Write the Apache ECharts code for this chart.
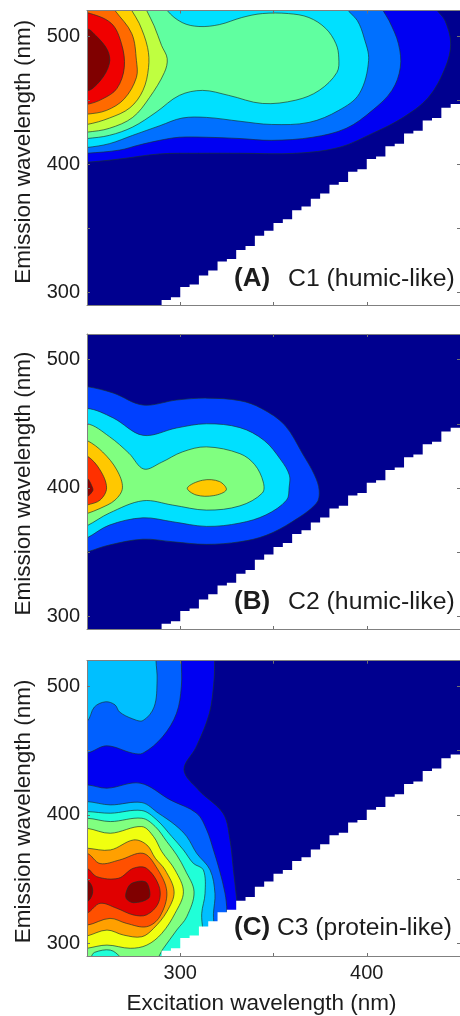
<!DOCTYPE html>
<html><head><meta charset="utf-8">
<style>html,body{margin:0;padding:0;background:#fff}#c{width:460px;height:1016px}</style>
<script src="https://cdn.jsdelivr.net/npm/echarts@6/dist/echarts.min.js"></script>
</head><body><div id="c"></div>
<script>
// Contour outlines as [excitation nm, emission nm]
const a1=[[240,401],[250,401.5],[267.5,404],[289,408],[310,408.5],[332,408.5],[362,408.5],[385,413],[403,424],[419,436],[433,452],[442,475],[445,494],[442,512],[437,522],[435,535],[240,535]];
const a2=[[240,408],[250,408.5],[267.5,411],[278,415],[289,418.6],[299.5,421],[314,421],[332,420],[349,418.6],[371,421],[389,428],[403,442],[413.5,457.6],[418,475.5],[417,494],[412,512],[408,522],[405,535],[240,535]];
const a3=[[240,412],[250,413],[262,416],[274.5,422.5],[289,430],[301,436],[314,436.5],[332,433.5],[349,431],[369,432.6],[385,442],[396,455],[401,481],[398.5,499],[395,512],[389,522],[386,535],[240,535]];
const a4=[[240,419],[250,420],[262,422.5],[274.5,429],[287,440.5],[299.5,453.7],[312,457.6],[326,453.7],[344,447.4],[362,450],[374.5,457.6],[384,471.6],[385,483],[383.5,494],[378,506],[369,514.5],[358,517.6],[344,517.6],[333,514.5],[321,509],[310,507.5],[301,510.6],[293,520],[290,530],[240,530]];
const a5=[[240,424],[250,425],[262,428],[274.5,436.5],[283.5,452],[291.5,471.6],[293,482.5],[290,492.6],[286,508],[282,520],[279,530],[240,530]];
const a6=[[240,430],[250,431],[262,436],[273,444],[280,457.6],[283,475.5],[282.5,491],[278,510],[274,520],[271,530],[240,530]];
const a7=[[240,438],[250,439],[260.5,442],[270,451],[276.5,467.7],[276.5,481],[274,502],[265,520],[260,530],[240,530]];
const a8=[[240,446],[250,446.7],[258.4,451],[266,459],[270,475.5],[268.5,494],[263,510],[250,518.4],[240,520]];
const a9=[[250,458],[257,465],[262,478.6],[261,489],[255,500],[250,505],[245,482]];

const b1=[[240,480],[250,479],[264,474],[280,464.6],[298,468.5],[314,470],[332,468],[343.5,462],[356,449],[366,425.6],[372,410],[374.5,398],[373,388],[360,373.6],[346,363],[332,358],[314,356],[296,358],[280,360],[262,355.5],[250,350],[240,346]];
const b2=[[240,458],[250,462],[264,454.6],[280,441],[298,446.7],[314,450],[332,447],[345,437],[354,421.7],[358.5,410],[358.4,400.7],[357,390.5],[346,379],[332,372.6],[314,370],[296,373.6],[280,376.7],[262,371],[250,361],[240,355]];
const b3=[[240,445],[250,450],[262,440],[272.5,427],[280.5,414.7],[290,420],[301,428],[314,432],[332,426.7],[340,418],[344.5,404.6],[344,396],[332,386],[314,382.7],[296,386.6],[280,390],[262,380.4],[250,370.5],[240,365]];
const b4=[[240,442],[250,437],[258.4,428],[266,414],[269,400],[265,390.5],[257,384],[250,380],[240,375]];
const b4b=[[303.8,400],[312,406],[321,405],[324.7,398.5],[318,394],[308.5,394.5]];
const b5=[[240,430],[250,425],[257,414],[260.5,400],[257,390.5],[250,386.6],[240,382]];
const b6=[[245,410],[250,407.7],[253,400],[253,397.5],[250,393],[245,390]];

const c1=[[318,525],[318.4,520],[318,503],[315.6,479],[308.6,453],[302,435],[310,419],[323,401],[326.7,380],[328.5,357],[330.2,335],[331,320],[331,280],[240,280],[240,525]];
const c2up=[[300.6,530],[300.6,520],[300.6,500],[298,479],[290.5,460.7],[280,448],[274.5,448],[260.5,453.7],[250,448],[240,448],[240,530]];
const c2lo=[[240,423],[250,423.3],[260.7,420.7],[278.5,424.6],[294.6,411.6],[308.8,401.2],[314.2,388.2],[317.8,372.6],[321,357],[324,339],[325,325],[325,280],[240,280]];
const c3up=[[287,530],[287,520],[287.6,505],[286,484],[280,473.4],[274.5,474.7],[267.5,480],[265,485.6],[260,488],[254,484],[250,472.6],[240,465],[240,530]];
const c3lo=[[240,410],[250,410.3],[262.5,407.7],[279.4,409.5],[288.3,401.2],[297.2,392.1],[303.5,383],[308.8,370],[316,357],[318.6,338.8],[317.8,323],[317,280],[240,280]];
const c4=[[240,402],[250,402.5],[262.5,401.2],[279.4,403.3],[287.4,396],[295.5,383],[301.7,372.6],[307,362.2],[312.4,357],[313.3,338.8],[311.5,323],[311,280],[240,280]];
const c5=[[240,396],[250,397.3],[262.5,394.7],[279.4,397.3],[286.6,390.8],[292.8,379.1],[298.1,368.7],[302.6,357],[307.4,340],[303.5,320.6],[298.1,310.2],[291,296],[285,284],[270,284],[268,289],[262.5,294.6],[254,292.8],[252,289],[250,286],[240,286]];
const c6=[[240,390],[250,389.5],[262.5,385.6],[279.4,390.8],[285.7,383],[290.1,371.3],[297.2,357],[301.7,340],[297.2,323.2],[290.1,307.6],[282.1,298.5],[273.2,296],[260.7,298.5],[250,296],[240,294]];
const c7=[[240,375],[250,374],[262.5,372.6],[275,380.4],[282.1,376.5],[286.6,366.2],[291.9,357],[296.7,340],[292.8,324.5],[285.7,311.5],[279.4,305],[269.6,306.3],[260.7,310.2],[250,305.6],[240,303]];
const c8=[[240,370],[250,370],[257,362],[267.5,364.8],[280,370],[287,359.6],[292.8,340],[289,320.6],[281.9,312.8],[271.2,315.4],[262.3,319.3],[250,314],[240,314]];
const c9=[[240,360],[250,358.3],[255.2,351.8],[266.8,350.5],[274.8,358.3],[281.9,358.3],[288.7,344],[288.2,331],[281.9,322],[274.8,322],[265.9,327.2],[257,331],[250,323.3],[240,320]];
const c10a=[[271.4,341.4],[274,346.6],[281.2,347.9],[283.5,341.4],[283,334.9],[275,331.5],[271,334.9]];
const c10b=[[245,350],[250,349],[252.7,344],[252.7,337.5],[250,332.3],[245,332]];

// Scan-grid limit: lowest emission measured per excitation column
const stepEx=[290,295,300,305,310,315,320,325,330,335,340,345,350,355,360,365,370,375,380,385,390,395,400,405,410,415,420,425,430,435,440,445];
const stepEm=[294,296,304,306,313,317,324,326,333,336,344,348,354,357,364,367,373,377,384,386,394,396,404,406,414,416,424,426,434,436,444,447];

// Tick values and labels
const xTicks=[300,350,400];
const xLabels=[300,400];
const yTicks=[300,350,400,450,500];
const yLabels=[300,400,500];
const tagNames=['(A)','(B)','(C)'];
const tagTexts=['C1 (humic-like)','C2 (humic-like)','C3 (protein-like)'];
const xTitle='Excitation wavelength (nm)';
const yTitle='Emission wavelength (nm)';

const navy='#00008F';
const FONT='"Liberation Sans",Arial,sans-serif';
const INK='#1c1c1c';
const panels=[
 {top:10.5,h:294.5,pad:[0,0,0,12],lab:[0,0,6,0],tagY:279,tagX:[234,288],tagFont:24.8,
  levels:[[a1,'#0000F2'],[a2,'#0070FF'],[a3,'#00E0FF'],[a4,'#60FFA0'],[a5,'#BFFF40'],[a6,'#FFD000'],[a7,'#FF6A00'],[a8,'#F00000'],[a9,'#800000']]},
 {top:334,h:295,pad:[0,4,0,0],lab:[0,0,3,0],tagY:602,tagX:[234,288],tagFont:24.8,
  levels:[[b1,'#0040FF'],[b2,'#00E0FF'],[b3,'#80FF80'],[b4,'#FFC800'],[b4b,'#FFC800'],[b5,'#FF3000'],[b6,'#8F0000']]},
 {top:660.7,h:295.3,pad:[0,6,0,0],lab:[0,0,0,0],tagY:928,tagX:[234,277],tagFont:24.6,
  levels:[[c1,'#0000F2'],[c2up,'#0060FF'],[c2lo,'#0060FF'],[c3up,'#00BFFF'],[c3lo,'#00BFFF'],[c4,'#20FFD8'],[c5,'#80FF80'],[c6,'#F0FF10'],[c7,'#FFA000'],[c8,'#FF5000'],[c9,'#E00000'],[c10a,'#800000'],[c10b,'#800000']]}
];

const mask=[[stepEx[0],280]];
stepEx.forEach((e,i)=>{mask.push([e,stepEm[i]]);mask.push([e+5,stepEm[i]]);});
mask.push([470,stepEm[stepEm.length-1]],[470,280]);

function polySeries(points,fill,idx,smooth,stroke){
  return {type:'custom',coordinateSystem:'cartesian2d',xAxisIndex:idx*2,yAxisIndex:idx*2,clip:true,silent:true,
    animation:false,data:points,encode:{x:0,y:1},
    renderItem(params,api){
      if(params.dataIndex!==0) return null;
      return {type:'polygon',shape:{points:points.map(p=>api.coord(p)),smooth:smooth},
        style:{fill:fill,stroke:stroke,lineWidth:stroke==='none'?0:1}};
    }};
}
const axisLine={show:true,onZero:false,lineStyle:{color:'#808080',width:1}};
const tick=(vals)=>({show:true,inside:true,length:3,customValues:vals,lineStyle:{color:'#707070',width:1}});
const grid=[],xAxis=[],yAxis=[],series=[],graphic=[];
panels.forEach((p,i)=>{
  grid.push({left:87,top:p.top,width:374,height:p.h,show:true,backgroundColor:navy,borderWidth:0});
  const last=i===2;
  xAxis.push({type:'value',gridIndex:i,min:250,max:450,position:'bottom',z:5,splitLine:{show:false},axisLine,axisTick:tick(xTicks),
    axisLabel:{show:last,customValues:xLabels,margin:7,fontFamily:FONT,fontSize:20,color:INK},
    name:last?xTitle:'',nameLocation:'middle',nameGap:36,nameTextStyle:{fontFamily:FONT,fontSize:22.5,color:INK,padding:[0,24,0,0]}});
  xAxis.push({type:'value',gridIndex:i,min:250,max:450,position:'top',z:5,splitLine:{show:false},axisLine,axisTick:tick(xTicks),axisLabel:{show:false}});
  yAxis.push({type:'value',gridIndex:i,min:290,max:520,position:'left',z:5,splitLine:{show:false},axisLine,axisTick:tick(yTicks),
    axisLabel:{show:true,customValues:yLabels,margin:7,fontFamily:FONT,fontSize:20,color:INK,padding:p.lab},
    name:yTitle,nameLocation:'middle',nameGap:52,nameTextStyle:{fontFamily:FONT,fontSize:22.5,color:INK,padding:p.pad}});
  yAxis.push({type:'value',gridIndex:i,min:290,max:520,position:'right',z:5,splitLine:{show:false},axisLine:{show:false},axisTick:tick(yTicks),axisLabel:{show:false}});
  p.levels.forEach(l=>series.push(polySeries(l[0],l[1],i,0.35,'rgba(25,50,45,0.65)')));
  series.push(polySeries(mask,'#ffffff',i,0,'none'));
  graphic.push({type:'text',z:20,style:{x:p.tagX[0],y:p.tagY,text:tagNames[i],fill:INK,font:'bold 26px '+FONT,textVerticalAlign:'middle'}});
  graphic.push({type:'text',z:20,style:{x:p.tagX[1],y:p.tagY,text:tagTexts[i],fill:INK,font:p.tagFont+'px '+FONT,textVerticalAlign:'middle'}});
});
const chart=echarts.init(document.getElementById('c'),null,{renderer:'canvas'});
chart.setOption({animation:false,backgroundColor:'#fff',grid,xAxis,yAxis,series,graphic});
</script></body></html>
